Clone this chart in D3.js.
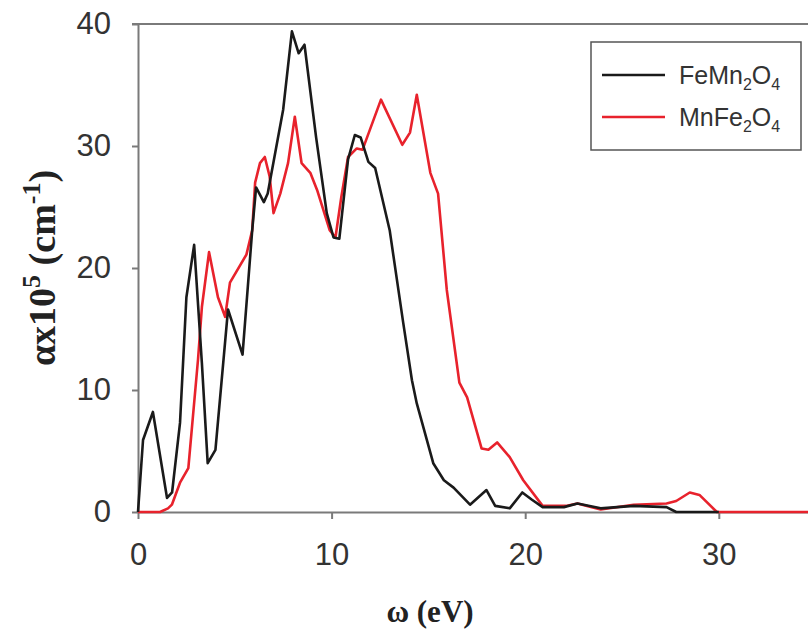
<!DOCTYPE html>
<html>
<head>
<meta charset="utf-8">
<script src="https://cdn.jsdelivr.net/npm/d3@7"></script>
<style>
  body { margin: 0; background: #fff; }
  .axis text { font-family: "Liberation Sans", Arial, sans-serif; font-size: 31px; fill: #333; }
  .axis path, .axis line { stroke: #7a7a7a; stroke-width: 2px; }
</style>
</head>
<body>
<svg id="chart" width="808" height="642"></svg>
<script>
// photon energy (eV) and absorption (x10^5 cm^-1)
var feMnE = [0, 0.26, 0.77, 1.5, 1.76, 2.17, 2.5, 2.9, 3.3, 3.6, 4.0, 4.65, 5.4, 5.9, 6.1, 6.5, 6.7, 7.5, 7.95, 8.3, 8.6, 9.2, 9.75, 10.1, 10.4, 10.85, 11.2, 11.5, 11.9, 12.25, 13.0, 13.7, 14.15, 14.4, 15.25, 15.8, 16.3, 17.15, 18.0, 18.45, 19.2, 19.85, 20.35, 20.9, 22.0, 22.7, 23.9, 25.6, 27.3, 27.8, 30];
var feMnA = [0, 5.9, 8.2, 1.15, 1.6, 7.3, 17.6, 21.9, 12.2, 4.0, 5.1, 16.6, 12.9, 23.1, 26.6, 25.4, 26.1, 33, 39.4, 37.6, 38.3, 30.7, 24.5, 22.5, 22.4, 28.9, 30.9, 30.7, 28.7, 28.2, 23.1, 15.5, 10.8, 8.9, 4.0, 2.6, 2.0, 0.6, 1.8, 0.5, 0.3, 1.6, 1.0, 0.4, 0.4, 0.7, 0.3, 0.5, 0.4, 0, 0];

var mnFeE = [0, 1.14, 1.55, 1.75, 2.17, 2.6, 3.1, 3.3, 3.67, 4.13, 4.5, 4.75, 5.6, 5.9, 6.05, 6.3, 6.55, 6.8, 7.0, 7.35, 7.75, 8.1, 8.45, 8.9, 9.25, 9.9, 10.2, 10.5, 10.85, 11.3, 11.6, 12.55, 13.65, 14.05, 14.4, 15.1, 15.5, 15.95, 16.6, 17.0, 17.75, 18.1, 18.55, 19.2, 19.9, 20.9, 22.1, 22.7, 23.9, 25.6, 27.3, 27.8, 28.5, 29.0, 29.9, 35];
var mnFeA = [0, 0, 0.3, 0.6, 2.4, 3.6, 12.5, 16.8, 21.3, 17.6, 16.0, 18.8, 21.1, 23.1, 27.0, 28.6, 29.1, 27.5, 24.5, 26.1, 28.6, 32.4, 28.6, 27.8, 26.4, 23.1, 22.5, 25.8, 29.1, 29.8, 29.7, 33.8, 30.1, 31.1, 34.2, 27.8, 26.1, 18.2, 10.6, 9.4, 5.2, 5.1, 5.7, 4.5, 2.6, 0.5, 0.5, 0.7, 0.2, 0.6, 0.7, 0.9, 1.6, 1.4, 0, 0];

var xTicks = [0, 10, 20, 30];
var yTicks = [0, 10, 20, 30, 40];

var svg = d3.select("#chart");

var x = d3.scaleLinear().domain([0, 35]).range([138, 138 + 35 * 19.36]);
var y = d3.scaleLinear().domain([0, 40]).range([512, 24]);

// frame top
svg.append("line")
  .attr("x1", x(0) - 6).attr("x2", x(35))
  .attr("y1", y(40)).attr("y2", y(40))
  .attr("stroke", "#7a7a7a").attr("stroke-width", 2);

svg.append("g")
  .attr("class", "x axis")
  .attr("transform", "translate(0," + y(0) + ")")
  .call(d3.axisBottom(x).tickValues(xTicks).tickSize(7).tickSizeOuter(0).tickPadding(24));

svg.append("g")
  .attr("class", "y axis")
  .attr("transform", "translate(" + x(0) + ",0)")
  .call(d3.axisLeft(y).tickValues(yTicks).tickSize(6).tickSizeOuter(0).tickPadding(21));

var line = d3.line()
  .x(function(d) { return x(d[0]); })
  .y(function(d) { return y(d[1]); });

function pairs(xs, ys) { return xs.map(function(v, i) { return [v, ys[i]]; }); }

svg.append("path")
  .datum(pairs(mnFeE, mnFeA))
  .attr("fill", "none")
  .attr("stroke", "#e8222c")
  .attr("stroke-width", 2.6)
  .attr("stroke-linejoin", "round")
  .attr("d", line);

svg.append("path")
  .datum(pairs(feMnE, feMnA))
  .attr("fill", "none")
  .attr("stroke", "#1a1a1a")
  .attr("stroke-width", 2.6)
  .attr("stroke-linejoin", "round")
  .attr("d", line);

// legend
var lg = svg.append("g");
lg.append("rect")
  .attr("x", 591).attr("y", 42).attr("width", 210).attr("height", 108)
  .attr("fill", "#fff").attr("stroke", "#555").attr("stroke-width", 1.5);

var items = [
  {parts: [["Fe", 0], ["Mn", 0], ["2", 1], ["O", 0], ["4", 1]], color: "#1a1a1a", y: 75},
  {parts: [["Mn", 0], ["Fe", 0], ["2", 1], ["O", 0], ["4", 1]], color: "#e8222c", y: 117}
];
items.forEach(function(it) {
  lg.append("line")
    .attr("x1", 602).attr("x2", 665)
    .attr("y1", it.y).attr("y2", it.y)
    .attr("stroke", it.color).attr("stroke-width", 2.6);
  var t = lg.append("text")
    .attr("x", 679).attr("y", it.y + 9)
    .attr("font-family", "Liberation Sans, Arial, sans-serif")
    .attr("font-size", 25).attr("fill", "#333");
  it.parts.forEach(function(p, i) {
    var prevSub = i > 0 && it.parts[i - 1][1];
    var ts = t.append("tspan").text(p[0]);
    if (p[1]) ts.attr("font-size", 16).attr("dy", 6);
    else if (prevSub) ts.attr("dy", -6);
  });
});

// axis titles
svg.append("text")
  .attr("x", 430).attr("y", 622)
  .attr("text-anchor", "middle")
  .attr("font-family", "Liberation Serif, Times New Roman, serif")
  .attr("font-weight", "bold").attr("font-size", 31).attr("fill", "#222")
  .text("\u03c9 (eV)");

var yl = svg.append("text")
  .attr("transform", "translate(55,268) rotate(-90)")
  .attr("text-anchor", "middle")
  .attr("font-family", "Liberation Serif, Times New Roman, serif")
  .attr("font-weight", "bold").attr("font-size", 38).attr("fill", "#222");
yl.append("tspan").text("\u03b1x10");
yl.append("tspan").text("5").attr("font-size", 26).attr("dy", -15);
yl.append("tspan").text(" (cm").attr("dy", 15);
yl.append("tspan").text("-1").attr("font-size", 26).attr("dy", -15);
yl.append("tspan").text(")").attr("dy", 15);
</script>
</body>
</html>
